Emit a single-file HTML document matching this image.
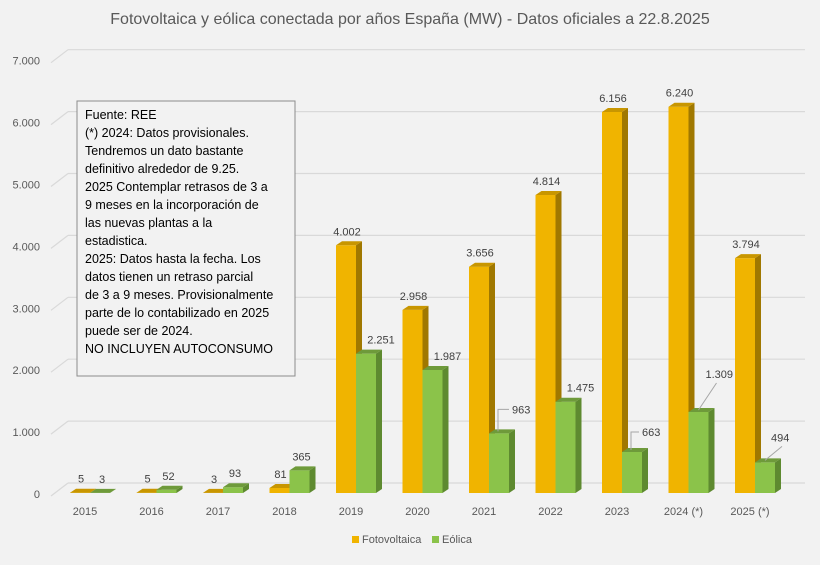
<!DOCTYPE html>
<html><head><meta charset="utf-8"><style>
body{margin:0;background:#f2f2f2;}
svg{font-family:"Liberation Sans",sans-serif;}
</style></head><body>
<svg width="820" height="560" viewBox="0 0 820 560" id="c">
<rect width="820" height="560" fill="#f2f2f2"/>
<text x="410" y="24" text-anchor="middle" font-size="16" fill="#595959">Fotovoltaica y eólica conectada por años España (MW) - Datos oficiales a 22.8.2025</text>
<g id="grid"></g>
<g id="bars"></g>
<g>
<rect x="77" y="101" width="218" height="275" fill="#f2f2f2" stroke="#8c8c8c"/>
<text font-size="12.5" fill="#000" x="85">
<tspan x="85" y="119">Fuente: REE</tspan>
<tspan x="85" y="137">(*) 2024: Datos provisionales.</tspan>
<tspan x="85" y="155">Tendremos un dato bastante</tspan>
<tspan x="85" y="173">definitivo alrededor de 9.25.</tspan>
<tspan x="85" y="191">2025 Contemplar retrasos de 3 a</tspan>
<tspan x="85" y="209">9 meses en la incorporación de</tspan>
<tspan x="85" y="227">las nuevas plantas a la</tspan>
<tspan x="85" y="245">estadistica.</tspan>
<tspan x="85" y="263">2025: Datos hasta la fecha. Los</tspan>
<tspan x="85" y="281">datos tienen un retraso parcial</tspan>
<tspan x="85" y="299">de 3 a 9 meses. Provisionalmente</tspan>
<tspan x="85" y="317">parte de lo contabilizado en 2025</tspan>
<tspan x="85" y="335">puede ser de 2024.</tspan>
<tspan x="85" y="353">NO INCLUYEN AUTOCONSUMO</tspan>
</text></g>
<g font-size="11" fill="#595959">
<rect x="352" y="536" width="7" height="7" fill="#f0b400"/>
<text x="362" y="543">Fotovoltaica</text>
<rect x="432" y="536" width="7" height="7" fill="#8bc34a"/>
<text x="442" y="543">Eólica</text>
</g>
</svg>
<script>
const categories=["2015","2016","2017","2018","2019","2020","2021","2022","2023","2024 (*)","2025 (*)"];
const pvValues=[5,5,3,81,4002,2958,3656,4814,6156,6240,3794];
const windValues=[3,52,93,365,2251,1987,963,1475,663,1309,494];
const yTicks=[0,1000,2000,3000,4000,5000,6000,7000];
const yTickLabels=["0","1.000","2.000","3.000","4.000","5.000","6.000","7.000"];
const leaderIdx=[6,8,9,10];
const leaderDx=[28,25,22,21];
const leaderDy=[-20,-16,-34,-21];
const leaderElbow=[true,true,false,false];
const NS="http://www.w3.org/2000/svg";
const base=493, scale=61.9/1000, x0=85, step=66.5, DX=6, DY=-4;
function y(v){return base-v*scale;}
function xc(i){return x0+i*step;}
function fmt(v){return v>=1000?Math.floor(v/1000)+"."+String(v%1000).padStart(3,"0"):String(v);}
function mk(tag,attrs,parent){const e=document.createElementNS(NS,tag);for(const k in attrs)e.setAttribute(k,attrs[k]);parent.appendChild(e);return e;}
const grid=document.getElementById('grid'), bars=document.getElementById('bars');
yTicks.forEach((t,i)=>{
  const yy=y(t)-10;
  const l=mk('line',{x1:68,x2:805,y1:yy,y2:yy,stroke:'#d9d9d9','stroke-width':1.2},grid);
  
  
  const d=mk('line',{x1:51,y1:yy+13,x2:68,y2:yy,stroke:'#d9d9d9','stroke-width':1.2},grid);
  
  
  const tx=mk('text',{x:40,y:y(t)+5,'text-anchor':'end','font-size':11,fill:'#595959'},grid);
  tx.textContent=yTickLabels[i];
  
  
});
function bar(x,w,v,cols,name){
  const g=mk('g',{},bars);
  
  
  const top=y(v), h=base-top;
  mk('rect',{x:x,y:top,width:w,height:h,fill:cols[0]},g);
  mk('polygon',{points:`${x+w},${top} ${x+w+DX},${top+DY} ${x+w+DX},${base+DY} ${x+w},${base}`,fill:cols[1]},g);
  mk('polygon',{points:`${x},${top} ${x+DX},${top+DY} ${x+w+DX},${top+DY} ${x+w},${top}`,fill:cols[2]},g);
}
categories.forEach((c,i)=>{
  const cx=xc(i);
  bar(cx-15,20,pvValues[i],['#f0b400','#a07800','#c89600'],'bar-fotovoltaica-'+c);
  bar(cx+5,20,windValues[i],['#8bc34a','#5e8a30','#6e9a3a'],'bar-eolica-'+c);
  const t1=mk('text',{x:cx-4,y:y(pvValues[i])-10,'text-anchor':'middle','font-size':11,fill:'#404040'},bars);
  t1.textContent=fmt(pvValues[i]);
  
  
  const k=leaderIdx.indexOf(i);
  const wt=y(windValues[i]);
  let t2;
  if(k>=0){
    const lx=cx+leaderDx[k], ly=wt+leaderDy[k];
    const d=leaderElbow[k]?`M${cx+14},${wt-2} L${cx+14},${ly-4} L${lx-3},${ly-4}`:`M${cx+15},${wt-2} L${lx+11},${ly+5}`;
    const ln=mk('path',{d:d,stroke:'#a6a6a6',fill:'none'},bars);
    
    
    t2=mk('text',{x:lx,y:ly,'text-anchor':'start','font-size':11,fill:'#404040'},bars);
  } else {
    t2=mk('text',{x:cx+(windValues[i]>1000?30:17),y:wt-10,'text-anchor':'middle','font-size':11,fill:'#404040'},bars);
  }
  t2.textContent=fmt(windValues[i]);
  
  
  const xl=mk('text',{x:cx,y:515,'text-anchor':'middle','font-size':11,fill:'#595959'},bars);
  xl.textContent=c;
  
  
});
</script>
</body></html>
